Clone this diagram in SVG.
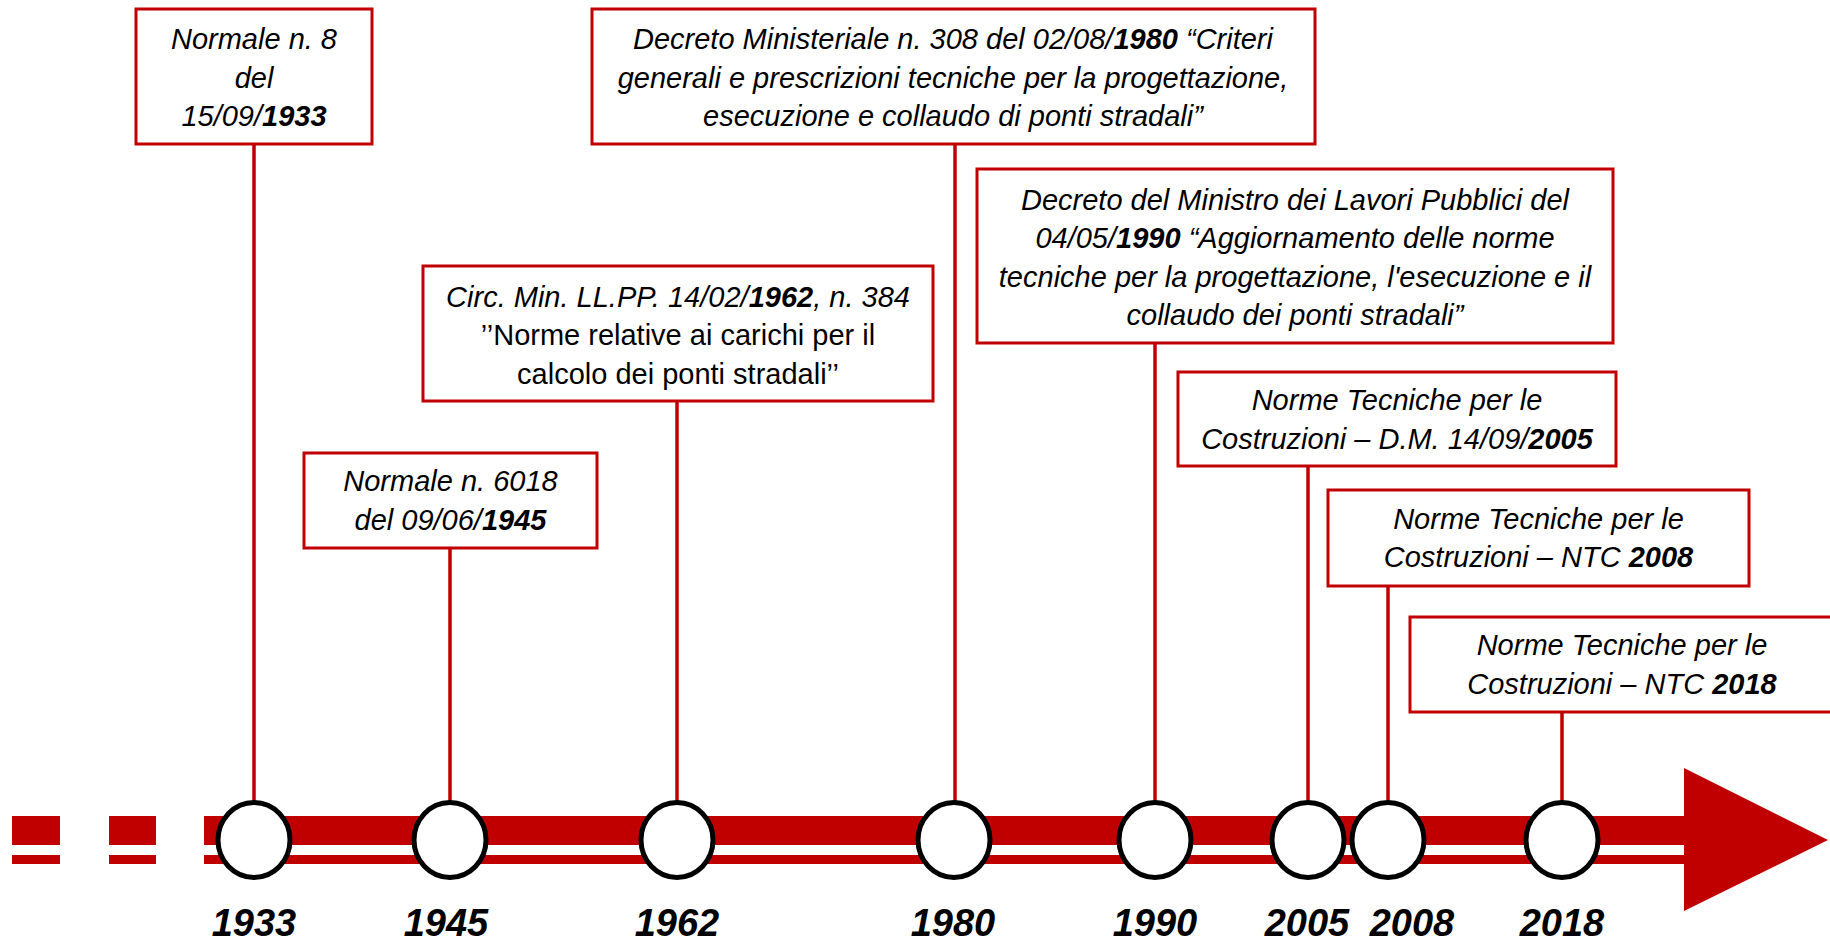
<svg xmlns="http://www.w3.org/2000/svg" width="1830" height="951" viewBox="0 0 1830 951">
<style>
.box{fill:#fff;stroke:#C00000;stroke-width:3}
.band{fill:#C00000}
.con{stroke:#C00000;stroke-width:3.5;fill:none}
.dot{fill:#fff;stroke:#000;stroke-width:5}
.t{font-family:"Liberation Sans",Arial,sans-serif;font-size:29px;font-style:italic;fill:#000;text-anchor:middle}
.up{font-style:normal}
.b{font-weight:bold}
.yr{font-family:"Liberation Sans",Arial,sans-serif;font-size:38px;font-style:italic;font-weight:bold;fill:#000;text-anchor:middle}
</style>
<rect width="1830" height="951" fill="#fff"/>
<g id="axis">
<rect class="band" x="12" y="816" width="48" height="29"/>
<rect class="band" x="12" y="855" width="48" height="9"/>
<rect class="band" x="109" y="816" width="47" height="29"/>
<rect class="band" x="109" y="855" width="47" height="9"/>
<rect class="band" x="204" y="816" width="1482" height="29"/>
<rect class="band" x="204" y="855" width="1482" height="9"/>
<polygon class="band" points="1684,768 1828,840 1684,911"/>
</g>
<g id="connectors">
<line class="con" x1="254" y1="144" x2="254" y2="802"/>
<line class="con" x1="450" y1="548" x2="450" y2="802"/>
<line class="con" x1="677" y1="401" x2="677" y2="802"/>
<line class="con" x1="955" y1="144" x2="955" y2="802"/>
<line class="con" x1="1155" y1="343" x2="1155" y2="802"/>
<line class="con" x1="1308" y1="466" x2="1308" y2="802"/>
<line class="con" x1="1388" y1="586" x2="1388" y2="802"/>
<line class="con" x1="1562" y1="712" x2="1562" y2="802"/>
</g>
<g id="y1933"><ellipse class="dot" cx="254" cy="840" rx="36" ry="37.5"/><text class="yr" x="254" y="936">1933</text></g>
<g id="y1945"><ellipse class="dot" cx="450" cy="840" rx="36" ry="37.5"/><text class="yr" x="446" y="936">1945</text></g>
<g id="y1962"><ellipse class="dot" cx="677" cy="840" rx="36" ry="37.5"/><text class="yr" x="677" y="936">1962</text></g>
<g id="y1980"><ellipse class="dot" cx="954" cy="840" rx="36" ry="37.5"/><text class="yr" x="953" y="936">1980</text></g>
<g id="y1990"><ellipse class="dot" cx="1155" cy="840" rx="36" ry="37.5"/><text class="yr" x="1155" y="936">1990</text></g>
<g id="y2005"><ellipse class="dot" cx="1308" cy="840" rx="36" ry="37.5"/><text class="yr" x="1307" y="936">2005</text></g>
<g id="y2008"><ellipse class="dot" cx="1388" cy="840" rx="36" ry="37.5"/><text class="yr" x="1412" y="936">2008</text></g>
<g id="y2018"><ellipse class="dot" cx="1562" cy="840" rx="36" ry="37.5"/><text class="yr" x="1562" y="936">2018</text></g>
<g id="box1933">
<rect class="box" x="136" y="9" width="236" height="135"/>
<text class="t" x="254" y="49">Normale n. 8</text>
<text class="t" x="254" y="87.5">del</text>
<text class="t" x="254" y="126">15/09/<tspan class="b">1933</tspan></text>
</g>
<g id="box1945">
<rect class="box" x="304" y="453" width="293" height="95"/>
<text class="t" x="450.5" y="491">Normale n. 6018</text>
<text class="t" x="450.5" y="529.5">del 09/06/<tspan class="b">1945</tspan></text>
</g>
<g id="box1962">
<rect class="box" x="423" y="266" width="510" height="135"/>
<text class="t" x="678" y="306.5">Circ. Min. LL.PP. 14/02/<tspan class="b">1962</tspan>, n. 384</text>
<text class="t up" x="678" y="345">’’Norme relative ai carichi per il</text>
<text class="t up" x="678" y="383.5">calcolo dei ponti stradali’’</text>
</g>
<g id="box1980">
<rect class="box" x="592" y="9" width="723" height="135"/>
<text class="t" x="953" y="49">Decreto Ministeriale n. 308 del 02/08/<tspan class="b">1980</tspan> “Criteri</text>
<text class="t" x="953" y="87.5">generali e prescrizioni tecniche per la progettazione,</text>
<text class="t" x="953" y="126">esecuzione e collaudo di ponti stradali”</text>
</g>
<g id="box1990">
<rect class="box" x="977" y="169" width="636" height="174"/>
<text class="t" x="1295" y="209.5">Decreto del Ministro dei Lavori Pubblici del</text>
<text class="t" x="1295" y="248">04/05/<tspan class="b">1990</tspan> “Aggiornamento delle norme</text>
<text class="t" x="1295" y="286.5">tecniche per la progettazione, l'esecuzione e il</text>
<text class="t" x="1295" y="325">collaudo dei ponti stradali”</text>
</g>
<g id="box2005">
<rect class="box" x="1178" y="372" width="438" height="94"/>
<text class="t" x="1397" y="410">Norme Tecniche per le</text>
<text class="t" x="1397" y="448.5">Costruzioni – D.M. 14/09/<tspan class="b">2005</tspan></text>
</g>
<g id="box2008">
<rect class="box" x="1328" y="490" width="421" height="96"/>
<text class="t" x="1538.5" y="528.5">Norme Tecniche per le</text>
<text class="t" x="1538.5" y="567">Costruzioni – NTC <tspan class="b">2008</tspan></text>
</g>
<g id="box2018">
<rect class="box" x="1410" y="617" width="425" height="95"/>
<text class="t" x="1622" y="655">Norme Tecniche per le</text>
<text class="t" x="1622" y="693.5">Costruzioni – NTC <tspan class="b">2018</tspan></text>
</g>
</svg>
